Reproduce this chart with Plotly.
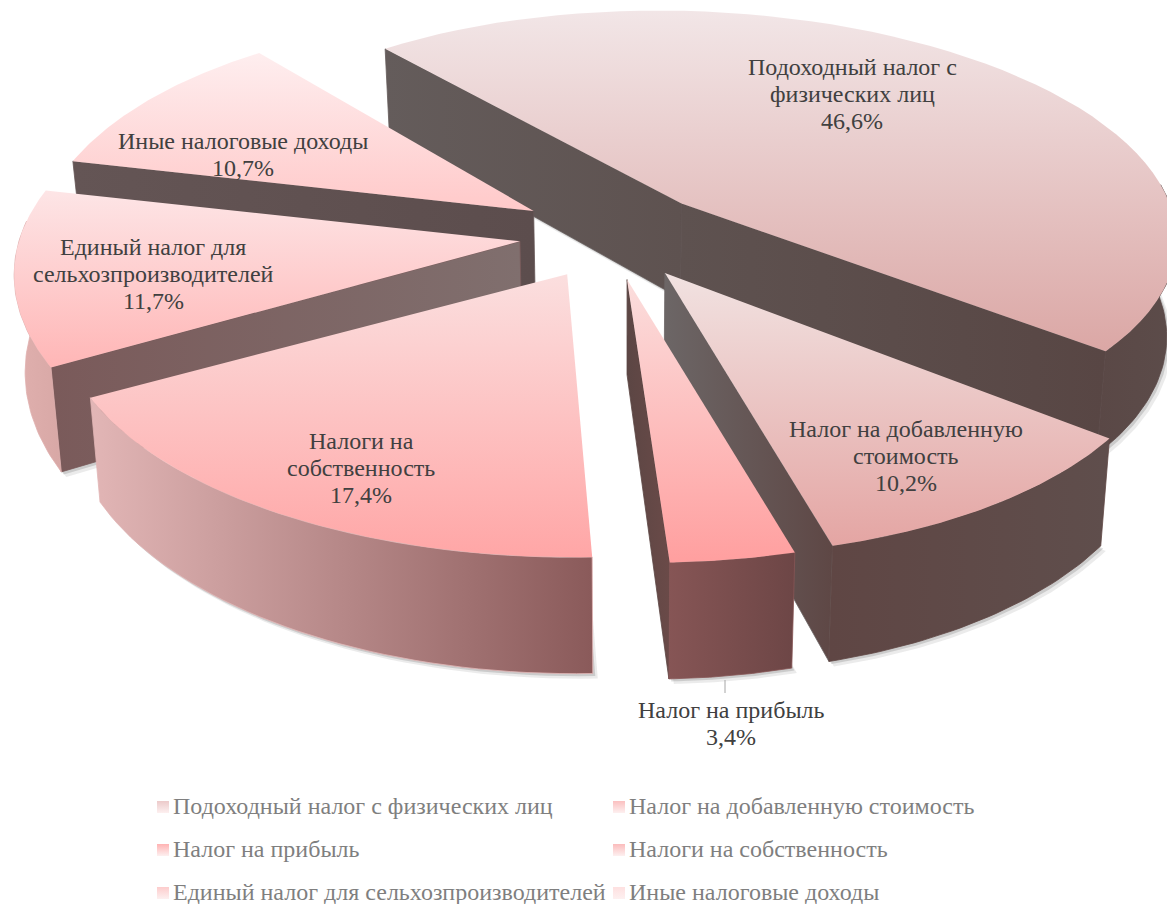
import math
import plotly.graph_objects as go

categories = ["Подоходный налог с физических лиц", "Налог на добавленную стоимость", "Налог на прибыль",
              "Налоги на собственность", "Единый налог для сельхозпроизводителей", "Иные налоговые доходы"]
values = [46.6, 10.2, 3.4, 17.4, 11.7, 10.7]
label_names = [["Подоходный налог с", "физических лиц"], ["Налог на добавленную", "стоимость"], ["Налог на прибыль"],
               ["Налоги на", "собственность"], ["Единый налог для", "сельхозпроизводителей"], ["Иные налоговые доходы"]]

# projection of the tilted pie onto the canvas
CX, CY, EA, EB = 614, 235, 95, 45
H = 95
VX, TAPER = 625, 0.982
START = -38.5
slice_A = [488, 490, 490, 500, 501, 490]
slice_B = [216, 231, 231, 231, 236, 231]
slice_K = [0.12, 0.184, 0.184, 0.184, 0.184, 0.184]
slice_S = [24, 24, 24, 6, 24, 10]
# colours: top (back, front); start wall (left, right); end wall (left, right); outer wall (left, right)
top_cols = [("#f2e6e7", "#dba7a5"), ("#f1e2e1", "#e4a5a3"), ("#fbdedd", "#ff9f9f"),
            ("#fbdfdf", "#ffa6a6"), ("#fde5e6", "#ffb6b6"), ("#feeeef", "#ffc9c9")]
start_cols = [("#645c5b", "#5e5250"), ("#5f4644", "#5f4644"), ("#6a4d4b", "#634543"),
              ("#8a5c5c", "#8a5c5c"), ("#7a5a5a", "#806f6e"), ("#645555", "#5c4d4d")]
end_cols = [("#5e5250", "#584644"), ("#6c6666", "#5e4745"), ("#5c4644", "#6a4a48"),
            ("#8a5c5c", "#8a5c5c"), ("#7a5a5a", "#806f6e"), ("#645555", "#5c4d4d")]
out_cols = [("#5a4846", "#5c4c4a"), ("#5f4644", "#5f4e4c"), ("#865555", "#6d4646"),
            ("#e2b6b6", "#8a5a5a"), ("#e0b0ae", "#d8a8a6"), ("#6a5a5a", "#6a5a5a")]
label_xy = [(852, 94), (906, 456), (731, 723), (361, 468), (153, 274), (243, 154)]
legend_xy = [(157, 806), (613, 806), (157, 849), (613, 849), (157, 892), (613, 892)]
swatch_cols = ["#eccaca", "#fbc0c0", "#ffb3b3", "#fbbcbc", "#fdcccc", "#fee0e0"]
swatch_fade = "#fdf0f0"
shadow_layers = [(5, 5, "rgba(60,60,60,0.10)"), (2.5, 2.5, "rgba(60,60,60,0.18)")]
draw_order = [0, 5, 4, 1, 3, 2]

# angular spans from values
spans, a = [], START
for v in values:
    b = a + v * 3.6
    spans.append((a, b))
    a = b

fig = go.Figure()


def poly(pts, cols, kind, edge=False):
    xs = [p[0] for p in pts]
    ys = [p[1] for p in pts]
    lo, hi = (min(ys), max(ys)) if kind == "vertical" else (min(xs), max(xs))
    line = dict(width=0.8, color=cols[0]) if edge else dict(width=0)
    fig.add_trace(go.Scatter(x=xs + xs[:1], y=ys + ys[:1], mode="lines", fill="toself", line=line,
                             hoverinfo="skip", showlegend=False,
                             fillgradient=dict(type=kind, colorscale=[[0, cols[0]], [1, cols[1]]], start=lo, stop=hi)))


for i in draw_order:
    s, e = spans[i]
    m = math.radians((s + e) / 2)
    ax, ay = CX + EA * math.sin(m), CY - EB * math.cos(m)
    A, B, K, S = slice_A[i], slice_B[i], slice_K[i], slice_S[i]

    def proj(th, r=1.0, drop=False):
        t = math.radians(th)
        X, Y = r * math.sin(t), r * math.cos(t)
        w = 1 + K * Y
        x = ax + A * X / w - S * Y
        y = ay - B * Y / w
        if drop:
            x = VX + (x - VX) * TAPER
            y += H / w
        return x, y

    # soft shadow below the slice
    n = 40
    ths = [s + (e - s) * j / n for j in range(n + 1)]
    base = [proj(s, 0, True)] + [proj(t, 1, True) for t in ths]
    for dx, dy, col in shadow_layers:
        fig.add_trace(go.Scatter(x=[p[0] + dx for p in base + base[:1]], y=[p[1] + dy for p in base + base[:1]],
                                 mode="lines", fill="toself", fillcolor=col, line=dict(width=0),
                                 hoverinfo="skip", showlegend=False))
    # cut walls that face the viewer
    if math.sin(math.radians(s)) < 0:
        poly([proj(s, 0), proj(s), proj(s, 1, True), proj(s, 0, True)], start_cols[i], "horizontal", edge=True)
    if math.sin(math.radians(e)) > 0:
        poly([proj(e, 0), proj(e), proj(e, 1, True), proj(e, 0, True)], end_cols[i], "horizontal", edge=True)
    # outer wall, front-facing part
    lo, hi = max(s, 85), min(e, 275)
    if hi > lo:
        ths = [lo + (hi - lo) * j / n for j in range(n + 1)]
        poly([proj(t) for t in ths] + [proj(t, 1, True) for t in reversed(ths)], out_cols[i], "horizontal", edge=True)
    # top face
    ths = [s + (e - s) * j / 60 for j in range(61)]
    poly([proj(s, 0)] + [proj(t) for t in ths], top_cols[i], "vertical")

# leader line of the small slice
fig.add_trace(go.Scatter(x=[725, 725], y=[680, 693], mode="lines", line=dict(color="#a6a6a6", width=1),
                         hoverinfo="skip", showlegend=False))
# legend swatches
fig.add_trace(go.Scatter(x=[p[0] + 6 for p in legend_xy], y=[p[1] + 1 for p in legend_xy], mode="markers",
                         marker=dict(symbol="square", size=12, color=swatch_cols, line=dict(width=0),
                                     gradient=dict(type="vertical", color=swatch_fade)),
                         hoverinfo="skip", showlegend=False))

LINE = 27
annotations = []
for name, v, (x, y) in zip(label_names, values, label_xy):
    lines = name + [f"{str(v).replace('.', ',')}%"]
    for j, line in enumerate(lines):
        annotations.append(dict(x=x, y=y + (j - (len(lines) - 1) / 2) * LINE, text=line, showarrow=False,
                                font=dict(family="Liberation Serif", size=24, color="#404040"), align="center"))
for name, (x, y) in zip(categories, legend_xy):
    annotations.append(dict(x=x + 14, y=y, text=name, showarrow=False, xanchor="left",
                            font=dict(family="Liberation Serif", size=24, color="#7f7f7f")))

fig.update_layout(width=1167, height=904, margin=dict(l=0, r=0, t=0, b=0), paper_bgcolor="white",
                  plot_bgcolor="white", showlegend=False, annotations=annotations,
                  xaxis=dict(range=[0, 1167], visible=False, fixedrange=True),
                  yaxis=dict(range=[904, 0], visible=False, fixedrange=True))
fig.write_html("out.html", post_script="document.body.style.margin='0';", config={"displayModeBar": False})
